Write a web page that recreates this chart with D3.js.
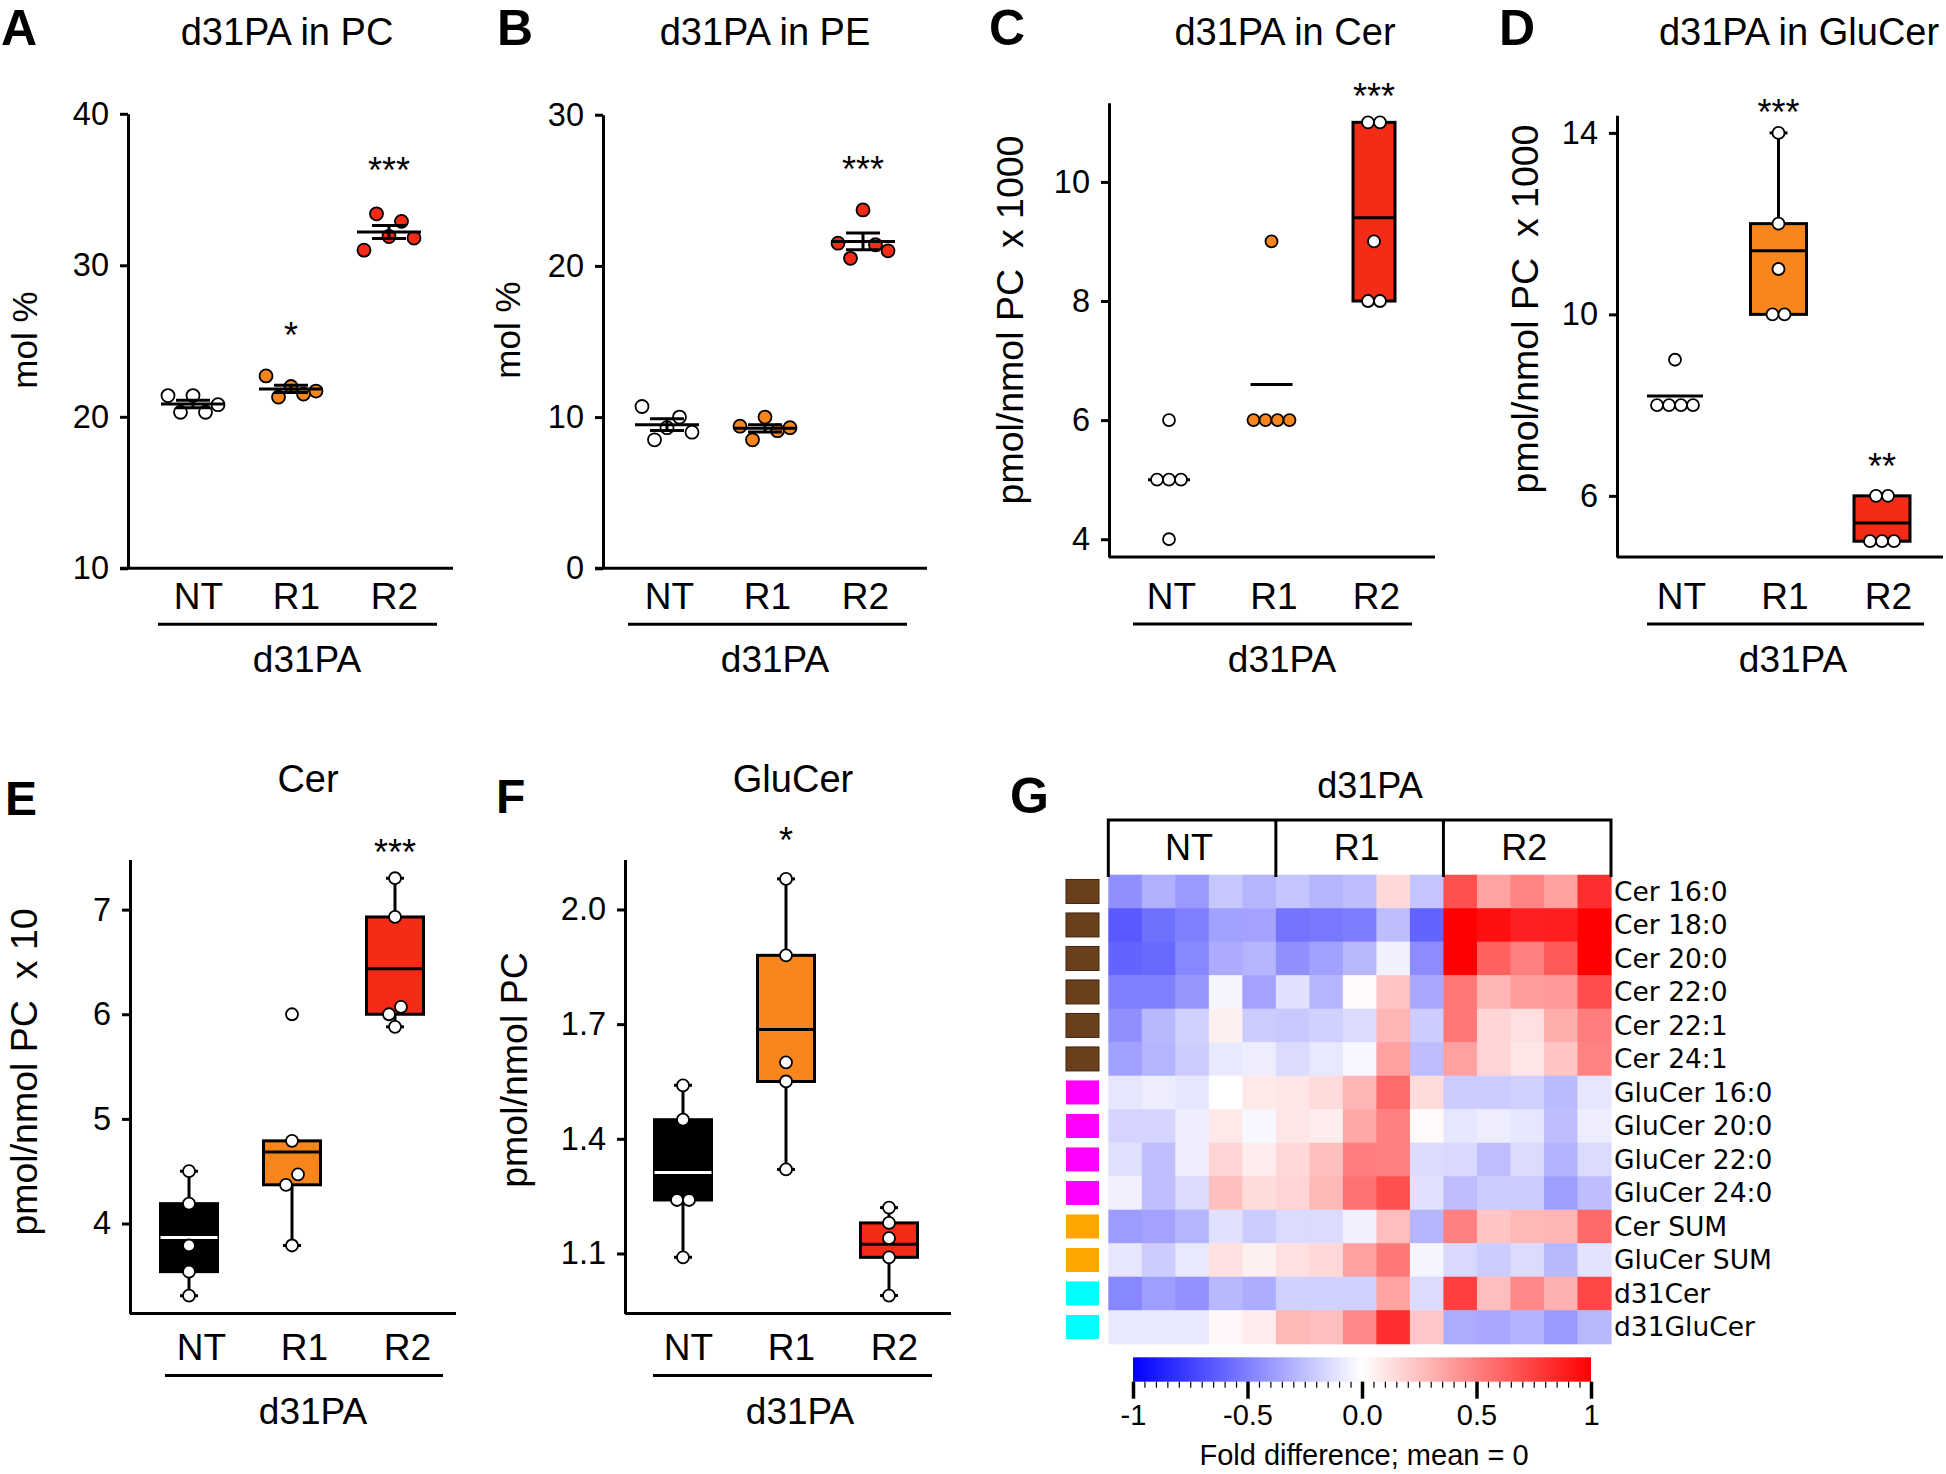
<!DOCTYPE html>
<html><head><meta charset="utf-8">
<script src="https://cdn.jsdelivr.net/npm/d3@7"></script>
<style>body{margin:0;background:#fff}</style>
</head><body>
<svg id="fig" width="1946" height="1474" xmlns="http://www.w3.org/2000/svg"></svg>
<script>
// ---------------- DATA ----------------
const categories = ["NT", "R1", "R2"];
const groupLabel = "d31PA";

// A: d31PA in PC (mol %), dot plot, values left-to-right
const pcNT = [21.4, 20.3, 21.4, 20.3, 20.8];
const pcR1 = [22.7, 21.3, 22.0, 21.5, 21.7];
const pcR2 = [31.0, 33.4, 31.9, 32.9, 31.8];
const pcTicks = [10, 20, 30, 40];
const pcSig = ["", "*", "***"];

// B: d31PA in PE (mol %)
const peNT = [10.7, 8.5, 9.3, 10.0, 9.0];
const peR1 = [9.4, 8.5, 10.0, 9.1, 9.3];
const peR2 = [21.5, 20.5, 23.7, 21.4, 21.0];
const peTicks = [0, 10, 20, 30];
const peSig = ["", "", "***"];

// C: d31PA in Cer (pmol/nmol PC x 1000)
const cerNT = [6, 5, 5, 5, 4];
const cerR1 = [6, 6, 9, 6, 6];
const cerR2 = [11, 11, 9, 8, 8];
const cerTicks = [4, 6, 8, 10];
const cerSig = ["", "", "***"];

// D: d31PA in GluCer (pmol/nmol PC x 1000)
const gluNT = [9, 8, 8, 8, 8];
const gluR1 = [14, 12, 11, 10, 10];
const gluR2 = [6, 6, 5, 5, 5];
const gluTicks = [6, 10, 14];
const gluSig = ["", "***", "**"];

// E: Cer (pmol/nmol PC x 10)
const cerTotNT = [4.50, 4.19, 3.79, 3.54, 3.31];
const cerTotR1 = [6.00, 4.79, 4.37, 4.47, 3.79];
const cerTotR2 = [7.30, 6.93, 6.00, 5.88, 6.07];
const cerTotTicks = [4, 5, 6, 7];
const cerTotSig = ["", "", "***"];

// F: GluCer (pmol/nmol PC)
const gluTotNT = [1.54, 1.45, 1.24, 1.24, 1.09];
const gluTotR1 = [2.08, 1.88, 1.60, 1.55, 1.32];
const gluTotR2 = [1.22, 1.18, 1.14, 1.09, 0.99];
const gluTotTicks = [1.1, 1.4, 1.7, 2.0];
const gluTotSig = ["", "*", ""];

// G: heatmap
const heatRows = ["Cer 16:0", "Cer 18:0", "Cer 20:0", "Cer 22:0", "Cer 22:1", "Cer 24:1",
  "GluCer 16:0", "GluCer 20:0", "GluCer 22:0", "GluCer 24:0", "Cer SUM", "GluCer SUM", "d31Cer", "d31GluCer"];
const heatRowGroups = ["Cer", "Cer", "Cer", "Cer", "Cer", "Cer", "GluCer", "GluCer", "GluCer", "GluCer", "SUM", "SUM", "d31", "d31"];
const heatColumns = ["NT-1", "NT-2", "NT-3", "NT-4", "NT-5", "R1-1", "R1-2", "R1-3", "R1-4", "R1-5", "R2-1", "R2-2", "R2-3", "R2-4", "R2-5"];
const heatValues = [
  [-0.44, -0.31, -0.40, -0.22, -0.29, -0.23, -0.29, -0.26, 0.15, -0.23, 0.69, 0.36, 0.48, 0.37, 0.82],
  [-0.65, -0.56, -0.50, -0.37, -0.36, -0.55, -0.53, -0.51, -0.26, -0.61, 1.00, 0.94, 0.87, 0.88, 1.00],
  [-0.61, -0.59, -0.47, -0.33, -0.29, -0.44, -0.37, -0.28, -0.06, -0.45, 1.00, 0.62, 0.50, 0.65, 1.00],
  [-0.50, -0.50, -0.41, -0.04, -0.36, -0.12, -0.29, 0.02, 0.23, -0.34, 0.53, 0.29, 0.39, 0.40, 0.70],
  [-0.44, -0.28, -0.18, 0.06, -0.20, -0.21, -0.18, -0.14, 0.29, -0.20, 0.53, 0.17, 0.12, 0.32, 0.51],
  [-0.37, -0.29, -0.20, -0.09, -0.07, -0.14, -0.09, -0.03, 0.37, -0.26, 0.37, 0.17, 0.10, 0.23, 0.49],
  [-0.10, -0.07, -0.10, 0.00, 0.09, 0.10, 0.14, 0.29, 0.58, 0.14, -0.20, -0.20, -0.18, -0.27, -0.10],
  [-0.17, -0.17, -0.07, 0.09, -0.03, 0.10, 0.07, 0.34, 0.50, 0.02, -0.10, -0.07, -0.10, -0.26, -0.07],
  [-0.12, -0.25, -0.07, 0.17, 0.07, 0.15, 0.25, 0.51, 0.50, -0.14, -0.15, -0.25, -0.14, -0.30, -0.14],
  [-0.06, -0.25, -0.14, 0.25, 0.14, 0.17, 0.28, 0.56, 0.69, -0.12, -0.26, -0.20, -0.20, -0.38, -0.26],
  [-0.39, -0.36, -0.29, -0.12, -0.20, -0.14, -0.14, -0.06, 0.26, -0.29, 0.50, 0.23, 0.28, 0.29, 0.59],
  [-0.10, -0.20, -0.09, 0.12, 0.06, 0.12, 0.15, 0.37, 0.53, -0.04, -0.15, -0.20, -0.14, -0.28, -0.11],
  [-0.47, -0.38, -0.43, -0.28, -0.32, -0.18, -0.18, -0.18, 0.36, -0.14, 0.75, 0.26, 0.47, 0.31, 0.72],
  [-0.09, -0.09, -0.09, 0.03, 0.07, 0.28, 0.26, 0.47, 0.82, 0.22, -0.32, -0.34, -0.30, -0.40, -0.28]
];
const colorbarTicks = [-1, -0.5, 0, 0.5, 1];
const colorbarTickLabels = ["-1", "-0.5", "0.0", "0.5", "1"];

// ---------------- STYLE ----------------
const FONT = "'Liberation Sans', Arial, Helvetica, sans-serif";
const ORANGE = "#F8861C", RED = "#F32B17", WHITE = "#ffffff", BLACK = "#000000";
const groupColors = { Cer: "#6A3F1B", GluCer: "#FF00FF", SUM: "#FFA500", d31: "#00FFFF" };

const svg = d3.select("#fig");
svg.append("rect").attr("width", 1946).attr("height", 1474).attr("fill", "#fff");

function txt(g, x, y, s, size, opts = {}) {
  return g.append("text").attr("x", x).attr("y", y).text(s)
    .attr("font-family", opts.family || FONT).attr("font-size", size)
    .attr("font-weight", opts.weight || "normal")
    .attr("text-anchor", opts.anchor || "middle").attr("fill", "#000");
}

function dodge(vals, y, d, thr) {
  const idx = vals.map((v, i) => i).sort((a, b) => vals[a] - vals[b] || a - b);
  const clusters = []; let cur = [idx[0]];
  for (let k = 1; k < idx.length; k++) {
    if (Math.abs(y(vals[idx[k]]) - y(vals[idx[k - 1]])) < thr) cur.push(idx[k]);
    else { clusters.push(cur); cur = [idx[k]]; }
  }
  clusters.push(cur);
  const off = new Array(vals.length).fill(0);
  clusters.forEach(c => { c.sort((a, b) => a - b); c.forEach((i, j) => off[i] = (j - (c.length - 1) / 2) * d); });
  return off;
}

function panel(cfg) {
  const g = svg.append("g");
  const y = d3.scaleLinear().domain(cfg.domain).range(cfg.yRange);
  const x = d3.scalePoint().domain(categories).range(cfg.xRange);
  const yb = cfg.yRange[0];

  txt(g, cfg.letter[1], cfg.letter[2], cfg.letter[0], cfg.letterSize || 50, { weight: "bold", anchor: "start" });
  txt(g, cfg.titlePos[0], cfg.titlePos[1], cfg.title, 38);

  // y label
  g.append("text").attr("transform", `translate(${cfg.ylabPos[0]},${cfg.ylabPos[1]}) rotate(-90)`)
    .attr("text-anchor", "middle").attr("font-family", FONT).attr("font-size", cfg.ylabSize || 37.5)
    .style("white-space", "pre").text(cfg.ylabel);

  // y axis
  const ya = g.append("g").attr("transform", `translate(${cfg.axisX},0)`)
    .call(d3.axisLeft(y).tickValues(cfg.ticks).tickFormat(cfg.fmt || d3.format("d"))
      .tickSize(8).tickPadding(11).tickSizeOuter(0));
  ya.attr("font-family", FONT).attr("font-size", 32.5);
  ya.select(".domain").attr("stroke-width", 3).attr("stroke", "#000");
  ya.selectAll(".tick line").attr("stroke-width", 3).attr("stroke", "#000");
  ya.selectAll(".tick text").attr("fill", "#000");

  // x axis baseline
  g.append("line").attr("x1", cfg.axisX - (cfg.xExt || 0)).attr("x2", cfg.xEnd)
    .attr("y1", yb).attr("y2", yb).attr("stroke", "#000").attr("stroke-width", 3);

  // category labels
  const xa = g.append("g").attr("transform", `translate(${cfg.labelDx},${yb})`)
    .call(d3.axisBottom(x).tickSize(0).tickPadding(cfg.below.lab - 26.3));
  xa.select(".domain").remove();
  xa.attr("font-family", FONT).attr("font-size", 37);
  xa.selectAll(".tick text").attr("fill", "#000");

  // group line + label
  g.append("line").attr("x1", cfg.grpLine[0]).attr("x2", cfg.grpLine[1])
    .attr("y1", yb + cfg.below.line).attr("y2", yb + cfg.below.line)
    .attr("stroke", "#000").attr("stroke-width", 3);
  txt(g, cfg.grpLabelX, yb + cfg.below.grp, groupLabel, 37);

  cfg.data.forEach((vals, gi) => {
    const cx = x(categories[gi]);
    if (cfg.type === "dot") {
      const sp = 12.5;
      g.selectAll(null).data(vals).join("circle")
        .attr("cx", (d, i) => cx + (i - (vals.length - 1) / 2) * sp)
        .attr("cy", d => y(d)).attr("r", 6.5)
        .attr("fill", cfg.pointFill[gi]).attr("stroke", "#000").attr("stroke-width", 1.8);
      const m = d3.mean(vals), sem = d3.deviation(vals) / Math.sqrt(vals.length);
      const ln = (x1, x2, y1, y2) => g.append("line").attr("x1", x1).attr("x2", x2).attr("y1", y1).attr("y2", y2)
        .attr("stroke", "#000").attr("stroke-width", 3);
      ln(cx - 32, cx + 32, y(m), y(m));
      ln(cx, cx, y(m - sem), y(m + sem));
      ln(cx - 17, cx + 17, y(m + sem), y(m + sem));
      ln(cx - 17, cx + 17, y(m - sem), y(m - sem));
    } else {
      const s = [...vals].sort(d3.ascending);
      const q1 = d3.quantile(s, 0.25), q3 = d3.quantile(s, 0.75), iqr = q3 - q1;
      const lo = d3.min(s.filter(d => d >= q1 - 1.5 * iqr)), hi = d3.max(s.filter(d => d <= q3 + 1.5 * iqr));
      const m = d3.mean(vals), bw = cfg.boxW;
      const ln = (x1, x2, y1, y2, c) => g.append("line").attr("x1", x1).attr("x2", x2).attr("y1", y1).attr("y2", y2)
        .attr("stroke", c || "#000").attr("stroke-width", 3);
      if (hi > q3) { ln(cx, cx, y(hi), y(q3)); ln(cx - 9, cx + 9, y(hi), y(hi)); }
      if (lo < q1) { ln(cx, cx, y(lo), y(q1)); ln(cx - 9, cx + 9, y(lo), y(lo)); }
      g.append("rect").attr("x", cx - bw / 2).attr("width", bw)
        .attr("y", y(q3)).attr("height", Math.max(0, y(q1) - y(q3)))
        .attr("fill", cfg.boxFill[gi]).attr("stroke", "#000").attr("stroke-width", 3);
      ln(cx - bw / 2, cx + bw / 2, y(m), y(m), cfg.meanColor[gi]);
      const off = dodge(vals, y, 12, 12);
      g.selectAll(null).data(vals).join("circle")
        .attr("cx", (d, i) => cx + off[i]).attr("cy", d => y(d)).attr("r", 6)
        .attr("fill", cfg.pointFill[gi]).attr("stroke", "#000").attr("stroke-width", 1.8);
    }
    if (cfg.sig[gi]) {
      txt(g, cx, y(d3.max(vals)) - cfg.sigGap[gi], cfg.sig[gi], 36);
    }
  });
}

const belowA = { lab: 41, line: 56, grp: 104 };
const belowC = { lab: 52, line: 67, grp: 115 };
const belowE = { lab: 47, line: 62, grp: 110 };

panel({ letter: ["A", 1, 45], title: "d31PA in PC", titlePos: [287, 44.6],
  ylabel: "mol %", ylabPos: [37, 340], ylabSize: 35,
  axisX: 128, domain: [10, 40], yRange: [568.3, 113.8], ticks: pcTicks, xExt: 8, xEnd: 453,
  xRange: [193, 389], labelDx: 5, below: belowA, grpLine: [158, 437], grpLabelX: 307,
  type: "dot", data: [pcNT, pcR1, pcR2], pointFill: [WHITE, ORANGE, RED],
  sig: pcSig, sigGap: [0, 28, 31] });

panel({ letter: ["B", 497, 45], title: "d31PA in PE", titlePos: [765, 44.6],
  ylabel: "mol %", ylabPos: [520, 330], ylabSize: 35,
  axisX: 603, domain: [0, 30], yRange: [568.3, 114.7], ticks: peTicks, xExt: 8, xEnd: 927,
  xRange: [667, 863], labelDx: 2, below: belowA, grpLine: [628, 907], grpLabelX: 775,
  type: "dot", data: [peNT, peR1, peR2], pointFill: [WHITE, ORANGE, RED],
  sig: peSig, sigGap: [0, 0, 28] });

panel({ letter: ["C", 989, 45], title: "d31PA in Cer", titlePos: [1285, 44.6],
  ylabel: "pmol/nmol PC  x 1000", ylabPos: [1023, 320],
  axisX: 1109, domain: [3.70, 11.33], yRange: [557.1, 102.7], ticks: cerTicks, xExt: 0, xEnd: 1435,
  xRange: [1169, 1374], labelDx: 2, below: belowC, grpLine: [1133, 1412], grpLabelX: 1282,
  type: "box", boxW: 42, data: [cerNT, cerR1, cerR2], boxFill: [WHITE, ORANGE, RED],
  meanColor: [BLACK, BLACK, BLACK], pointFill: [WHITE, ORANGE, WHITE],
  sig: cerSig, sigGap: [0, 0, 13] });

panel({ letter: ["D", 1499, 45], title: "d31PA in GluCer", titlePos: [1799, 44.6],
  ylabel: "pmol/nmol PC  x 1000", ylabPos: [1538, 309],
  axisX: 1617, domain: [4.65, 14.39], yRange: [557.1, 115.2], ticks: gluTicks, xExt: 0, xEnd: 1943,
  xRange: [1675, 1882], labelDx: 6, below: belowC, grpLine: [1647, 1924], grpLabelX: 1793,
  type: "box", boxW: 56, data: [gluNT, gluR1, gluR2], boxFill: [WHITE, ORANGE, RED],
  meanColor: [BLACK, BLACK, BLACK], pointFill: [WHITE, WHITE, WHITE],
  sig: gluSig, sigGap: [0, 8, 17] });

panel({ letter: ["E", 5, 815], letterSize: 48, title: "Cer", titlePos: [308, 791.5],
  ylabel: "pmol/nmol PC  x 10", ylabPos: [37, 1072],
  axisX: 130, domain: [3.14, 7.48], yRange: [1313.5, 859.4], ticks: cerTotTicks, xExt: 0, xEnd: 456,
  xRange: [189, 395], labelDx: 12, below: belowE, grpLine: [165, 443], grpLabelX: 313,
  type: "box", boxW: 57, data: [cerTotNT, cerTotR1, cerTotR2], boxFill: [BLACK, ORANGE, RED],
  meanColor: [WHITE, BLACK, BLACK], pointFill: [WHITE, WHITE, WHITE],
  sig: cerTotSig, sigGap: [0, 0, 13] });

panel({ letter: ["F", 496, 813], letterSize: 48, title: "GluCer", titlePos: [793, 791.5],
  ylabel: "pmol/nmol PC", ylabPos: [527, 1070],
  axisX: 625, domain: [0.943, 2.131], yRange: [1313.5, 859.4], ticks: gluTotTicks, fmt: d3.format(".1f"),
  xEnd: 951, xExt: 0, xRange: [683, 889], labelDx: 5, below: belowE, grpLine: [653, 932], grpLabelX: 800,
  type: "box", boxW: 57, data: [gluTotNT, gluTotR1, gluTotR2], boxFill: [BLACK, ORANGE, RED],
  meanColor: [WHITE, BLACK, BLACK], pointFill: [WHITE, WHITE, WHITE],
  sig: gluTotSig, sigGap: [0, 26, 0] });

// ---------------- HEATMAP G ----------------
(function () {
  const g = svg.append("g");
  const color = d3.scaleLinear().domain([-1, 0, 1]).range(["#0000ff", "#ffffff", "#ff0000"]).clamp(true);
  const xh = d3.scaleBand().domain(heatColumns).range([1108.3, 1611]);
  const yh = d3.scaleBand().domain(heatRows).range([874.7, 1343.7]);

  txt(g, 1010, 813, "G", 50, { weight: "bold", anchor: "start" });
  txt(g, 1370, 798, groupLabel, 36);

  heatValues.forEach((row, ri) => {
    g.selectAll(null).data(row).join("rect")
      .attr("x", (d, ci) => xh(heatColumns[ci])).attr("y", yh(heatRows[ri]))
      .attr("width", xh.bandwidth() + 0.6).attr("height", yh.bandwidth() + 0.6)
      .attr("fill", d => color(d));
  });

  // bracket header
  const bTop = 820, bBot = 877;
  const xb = i => i < heatColumns.length ? xh(heatColumns[i]) : xh.range()[1];
  g.append("path").attr("d", `M${xb(0)},${bBot}V${bTop}H${xb(15)}V${bBot}M${xb(5)},${bTop}V${bBot}M${xb(10)},${bTop}V${bBot}`)
    .attr("fill", "none").attr("stroke", "#000").attr("stroke-width", 3);
  categories.forEach((c, i) => {
    const cxm = (xb(i * 5) + xb(i * 5 + 5)) / 2 - 3;
    txt(g, cxm, 860, c, 36);
  });

  // row swatches + labels
  g.selectAll(null).data(heatRows).join("rect")
    .attr("x", 1066).attr("width", 33).attr("height", 24)
    .attr("y", d => yh(d) + yh.bandwidth() / 2 - 12)
    .attr("fill", (d, i) => groupColors[heatRowGroups[i]])
    .attr("stroke", (d, i) => heatRowGroups[i] === "Cer" ? "#3f2410" : "none").attr("stroke-width", 1);
  g.selectAll(null).data(heatRows).join("text")
    .attr("x", 1614).attr("y", d => yh(d) + yh.bandwidth() / 2).attr("dy", "0.36em")
    .attr("font-family", "'DejaVu Sans', Verdana, sans-serif").attr("font-size", 26.5)
    .attr("fill", "#000").text(d => d);

  // colorbar
  const xc = d3.scaleLinear().domain([-1, 1]).range([1133, 1591]);
  const defs = svg.append("defs");
  const grad = defs.append("linearGradient").attr("id", "cbgrad").attr("x1", "0%").attr("x2", "100%");
  d3.range(0, 1.0001, 0.1).forEach(t => grad.append("stop").attr("offset", (t * 100) + "%")
    .attr("stop-color", color(-1 + 2 * t)));
  g.append("rect").attr("x", xc(-1)).attr("width", xc(1) - xc(-1)).attr("y", 1357.3).attr("height", 24.4)
    .attr("fill", "url(#cbgrad)");
  const minor = g.append("g").attr("transform", "translate(0,1381.7)")
    .call(d3.axisBottom(xc).tickValues(d3.range(-20, 21).map(i => i / 20)).tickSize(6).tickFormat(""));
  minor.select(".domain").remove();
  minor.selectAll(".tick line").attr("stroke", "#000").attr("stroke-width", 1.2);
  const major = g.append("g").attr("transform", "translate(0,1381.7)")
    .call(d3.axisBottom(xc).tickValues(colorbarTicks).tickSize(17).tickPadding(5.5)
      .tickFormat((d, i) => colorbarTickLabels[i]));
  major.select(".domain").remove();
  major.attr("font-family", FONT).attr("font-size", 29);
  major.selectAll(".tick line").attr("stroke", "#000").attr("stroke-width", 3.5);
  major.selectAll(".tick text").attr("fill", "#000");
  txt(g, 1364, 1465, "Fold difference; mean = 0", 29);
})();
</script>
</body></html>
